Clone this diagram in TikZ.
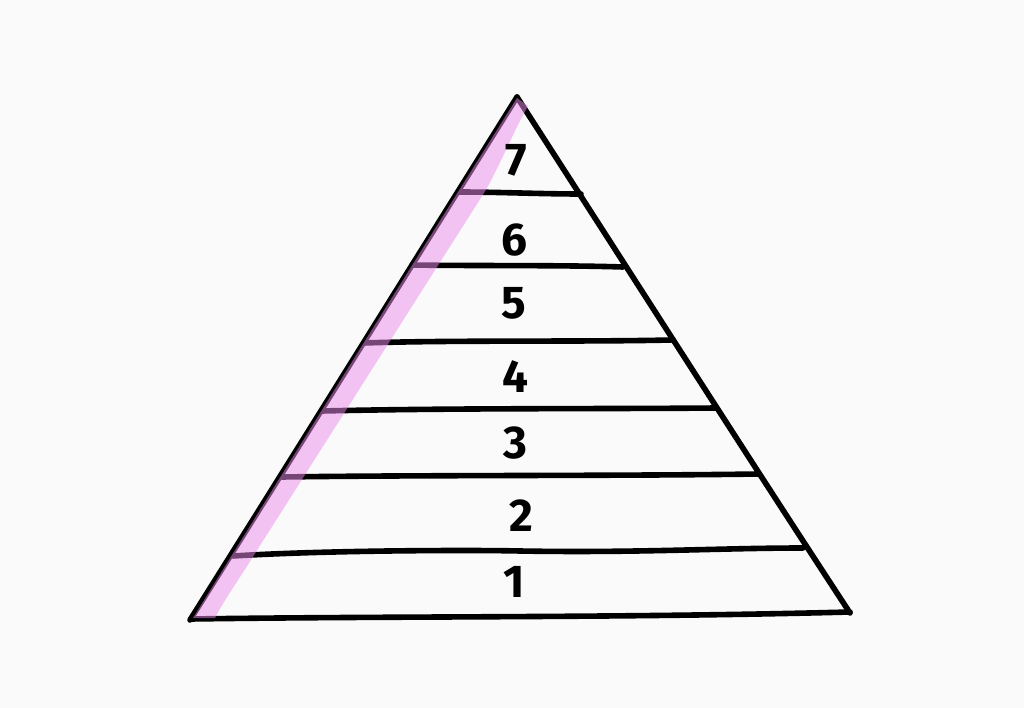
\documentclass[tikz,border=0pt]{standalone}
\usepackage{fontspec}
\setmainfont{Fira Sans}
\begin{document}
\begin{tikzpicture}[x=1pt,y=-1pt,
  ink/.style={line width=5.6pt,line cap=round,line join=round,black},
  num/.style={font=\fontsize{46}{46}\selectfont\bfseries,inner sep=0pt},
  hl/.style={fill={rgb,255:red,236;green,140;blue,236},fill opacity=0.5}]
\fill[white!98!black] (0,0) rectangle (1024,708);
\useasboundingbox (0,0) rectangle (1024,708);
% horizontal layer lines
\draw[ink] (458,192) .. controls (500,192) and (540,194) .. (581,194);
\draw[ink] (412,265) .. controls (480,266) and (560,265) .. (623,267);
\draw[ink] (364,343) .. controls (450,340) and (580,342) .. (671,340);
\draw[ink] (322,411) .. controls (450,408) and (600,409) .. (716,408);
\draw[ink] (282,477) .. controls (420,475) and (620,476) .. (758,474);
\draw[ink] (233,556) .. controls (330,550) and (480,550) .. (520,551) .. controls (640,553) and (720,548) .. (803,548);
% base
\draw[ink] (191,619) .. controls (400,616) and (620,618) .. (850,612);
% sides
\draw[ink] (190,620) .. controls (300,445) and (410,268) .. (517,97);
\draw[ink] (517,97) .. controls (630,272) and (740,445) .. (850,613);
% pink highlight band
\fill[hl] (517,98) -- (528,106) .. controls (513,132) and (499,168) .. (484,193)
  -- (254,555) .. controls (240,578) and (224,600) .. (215,618)
  -- (193,618) .. controls (300,445) and (410,268) .. cycle;
% numbers
\node[num] (n7) at (516,160) {7};
\node[num] (n6) at (514,240) {6};
\node[num] (n5) at (514,303) {5};
\node[num] (n4) at (515,377) {4};
\node[num] (n3) at (515,443) {3};
\node[num] (n2) at (521,516) {2};
\node[num] (n1) at (514,582) {1};
\end{tikzpicture}
\end{document}
